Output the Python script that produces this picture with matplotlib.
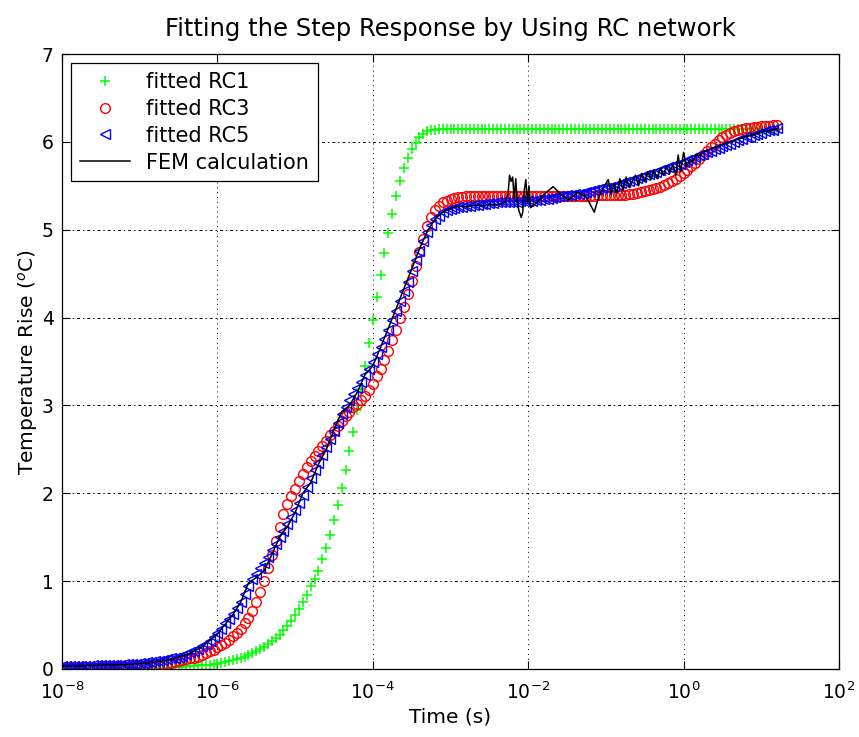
from __future__ import annotations

import numpy as np
import matplotlib

matplotlib.use("Agg")
import matplotlib.pyplot as plt
from matplotlib.ticker import NullLocator


# log10 of time (s) where the fitted RC curves are sampled: -8.00 ... 1.20, step 0.05
LOG_T_FIT = np.round(np.arange(-8.0, 1.2001, 0.05), 2)

# one row = half a decade (10 samples); the last row is 1.00 .. 1.20
RC1 = [
    0.00, 0.00, 0.00, 0.00, 0.00, 0.00, 0.00, 0.00, 0.00, 0.00,
    0.00, 0.00, 0.00, 0.01, 0.01, 0.01, 0.01, 0.01, 0.01, 0.01,
    0.01, 0.01, 0.01, 0.01, 0.01, 0.01, 0.01, 0.01, 0.02, 0.02,
    0.02, 0.02, 0.03, 0.03, 0.03, 0.04, 0.04, 0.05, 0.05, 0.06,
    0.06, 0.07, 0.08, 0.09, 0.10, 0.11, 0.13, 0.14, 0.16, 0.18,
    0.20, 0.23, 0.25, 0.28, 0.32, 0.35, 0.39, 0.44, 0.49, 0.55,
    0.61, 0.68, 0.76, 0.84, 0.94, 1.03, 1.12, 1.25, 1.38, 1.53,
    1.70, 1.87, 2.06, 2.26, 2.48, 2.70, 2.95, 3.19, 3.45, 3.71,
    3.97, 4.23, 4.48, 4.73, 4.96, 5.18, 5.38, 5.55, 5.70, 5.82,
    5.92, 5.99, 6.05, 6.09, 6.12, 6.13, 6.14, 6.15, 6.15, 6.15,
    6.15, 6.15, 6.15, 6.15, 6.15, 6.15, 6.15, 6.15, 6.15, 6.15,
    6.15, 6.15, 6.15, 6.15, 6.15, 6.15, 6.15, 6.15, 6.15, 6.15,
    6.15, 6.15, 6.15, 6.15, 6.15, 6.15, 6.15, 6.15, 6.15, 6.15,
    6.15, 6.15, 6.15, 6.15, 6.15, 6.15, 6.15, 6.15, 6.15, 6.15,
    6.15, 6.15, 6.15, 6.15, 6.15, 6.15, 6.15, 6.15, 6.15, 6.15,
    6.15, 6.15, 6.15, 6.15, 6.15, 6.15, 6.15, 6.15, 6.15, 6.15,
    6.15, 6.15, 6.15, 6.15, 6.15, 6.15, 6.15, 6.15, 6.15, 6.15,
    6.15, 6.15, 6.15, 6.15, 6.15, 6.15, 6.15, 6.15, 6.15, 6.15,
    6.15, 6.15, 6.15, 6.15, 6.15,
]

RC3 = [
    0.01, 0.01, 0.01, 0.01, 0.01, 0.01, 0.01, 0.01, 0.01, 0.01,
    0.02, 0.02, 0.02, 0.02, 0.02, 0.02, 0.02, 0.02, 0.03, 0.03,
    0.03, 0.03, 0.04, 0.04, 0.05, 0.05, 0.06, 0.06, 0.07, 0.08,
    0.09, 0.10, 0.11, 0.12, 0.13, 0.14, 0.16, 0.18, 0.20, 0.22,
    0.25, 0.27, 0.30, 0.33, 0.37, 0.41, 0.46, 0.52, 0.58, 0.66,
    0.76, 0.88, 1.00, 1.15, 1.30, 1.46, 1.62, 1.76, 1.88, 1.97,
    2.05, 2.14, 2.22, 2.30, 2.37, 2.43, 2.48, 2.54, 2.60, 2.66,
    2.71, 2.77, 2.82, 2.88, 2.93, 2.98, 3.02, 3.06, 3.11, 3.17,
    3.24, 3.33, 3.42, 3.52, 3.62, 3.74, 3.86, 3.99, 4.12, 4.27,
    4.42, 4.59, 4.75, 4.90, 5.04, 5.14, 5.22, 5.27, 5.31, 5.33,
    5.35, 5.36, 5.37, 5.37, 5.38, 5.38, 5.38, 5.38, 5.38, 5.38,
    5.38, 5.38, 5.38, 5.38, 5.38, 5.38, 5.38, 5.38, 5.38, 5.38,
    5.38, 5.38, 5.38, 5.38, 5.38, 5.38, 5.38, 5.38, 5.38, 5.38,
    5.38, 5.38, 5.38, 5.38, 5.38, 5.38, 5.38, 5.38, 5.39, 5.39,
    5.39, 5.39, 5.39, 5.40, 5.40, 5.40, 5.41, 5.41, 5.42, 5.43,
    5.44, 5.45, 5.46, 5.47, 5.49, 5.51, 5.53, 5.55, 5.58, 5.61,
    5.64, 5.68, 5.72, 5.76, 5.81, 5.85, 5.90, 5.94, 5.98, 6.02,
    6.05, 6.08, 6.10, 6.12, 6.14, 6.15, 6.16, 6.16, 6.17, 6.17,
    6.18, 6.18, 6.18, 6.19, 6.19,
]

RC5 = [
    0.03, 0.03, 0.03, 0.03, 0.03, 0.03, 0.03, 0.03, 0.04, 0.04,
    0.04, 0.04, 0.05, 0.05, 0.05, 0.05, 0.06, 0.06, 0.06, 0.06,
    0.07, 0.07, 0.08, 0.08, 0.09, 0.09, 0.10, 0.11, 0.12, 0.13,
    0.14, 0.15, 0.17, 0.19, 0.21, 0.23, 0.26, 0.29, 0.32, 0.36,
    0.41, 0.46, 0.52, 0.57, 0.63, 0.69, 0.76, 0.85, 0.95, 1.02,
    1.08, 1.15, 1.21, 1.28, 1.35, 1.42, 1.50, 1.57, 1.65, 1.73,
    1.81, 1.89, 1.98, 2.07, 2.17, 2.26, 2.35, 2.44, 2.53, 2.62,
    2.71, 2.80, 2.90, 2.98, 3.06, 3.13, 3.20, 3.27, 3.35, 3.42,
    3.50, 3.58, 3.66, 3.76, 3.86, 3.97, 4.08, 4.19, 4.30, 4.41,
    4.53, 4.65, 4.76, 4.87, 4.97, 5.05, 5.12, 5.16, 5.20, 5.22,
    5.24, 5.25, 5.26, 5.26, 5.27, 5.27, 5.28, 5.28, 5.29, 5.29,
    5.30, 5.30, 5.31, 5.31, 5.31, 5.31, 5.32, 5.32, 5.33, 5.33,
    5.33, 5.33, 5.34, 5.34, 5.35, 5.35, 5.36, 5.37, 5.38, 5.38,
    5.39, 5.40, 5.41, 5.41, 5.42, 5.43, 5.44, 5.45, 5.46, 5.47,
    5.48, 5.49, 5.50, 5.51, 5.53, 5.54, 5.56, 5.57, 5.59, 5.60,
    5.62, 5.63, 5.65, 5.66, 5.68, 5.69, 5.71, 5.72, 5.74, 5.75,
    5.77, 5.79, 5.81, 5.83, 5.85, 5.86, 5.88, 5.90, 5.92, 5.93,
    5.95, 5.96, 5.98, 6.00, 6.02, 6.03, 6.05, 6.06, 6.08, 6.09,
    6.10, 6.12, 6.13, 6.14, 6.16,
]

# FEM calculation, read point by point (log10 of time, temperature rise)
LOG_T_FEM = [
    -8.0, -7.6, -7.2, -7.0, -6.8, -6.6, -6.4, -6.2, -6.0, -5.8,
    -5.7, -5.6, -5.5, -5.4, -5.3, -5.2, -5.1, -5.0, -4.9, -4.8,
    -4.7, -4.6, -4.5, -4.4, -4.3, -4.2, -4.1, -4.0, -3.9, -3.8,
    -3.7, -3.6, -3.5, -3.4, -3.3, -3.2, -3.1, -3.0, -2.9, -2.8,
    -2.7, -2.6, -2.5, -2.4, -2.3, -2.26, -2.24, -2.22, -2.2, -2.18,
    -2.16, -2.14, -2.12, -2.09, -2.07, -2.05, -2.03, -2.01, -1.99, -1.97,
    -1.9, -1.8, -1.68, -1.55, -1.48, -1.36, -1.25, -1.15, -1.1, -1.05,
    -0.97, -0.93, -0.9, -0.86, -0.82, -0.78, -0.74, -0.7, -0.66, -0.62,
    -0.58, -0.54, -0.5, -0.46, -0.42, -0.38, -0.34, -0.3, -0.26, -0.22,
    -0.18, -0.14, -0.1, -0.07, -0.04, 0.0, 0.04, 0.08, 0.12, 0.16,
    0.2, 0.25, 0.3, 0.4, 0.5, 0.6, 0.7, 0.8, 0.9, 1.0,
    1.1, 1.2,
]
FEM = [
    0.03, 0.04, 0.05, 0.06, 0.08, 0.11, 0.16, 0.25, 0.40, 0.62,
    0.76, 0.98, 1.04, 1.12, 1.30, 1.50, 1.62, 1.78, 2.00, 2.12,
    2.33, 2.50, 2.72, 2.93, 3.00, 3.15, 3.35, 3.45, 3.66, 3.88,
    4.10, 4.33, 4.55, 4.78, 4.98, 5.12, 5.20, 5.24, 5.27, 5.26,
    5.28, 5.27, 5.29, 5.28, 5.31, 5.40, 5.62, 5.55, 5.60, 5.35,
    5.58, 5.30, 5.22, 5.14, 5.20, 5.45, 5.57, 5.30, 5.50, 5.25,
    5.30, 5.40, 5.49, 5.38, 5.34, 5.43, 5.37, 5.20, 5.35, 5.45,
    5.57, 5.40, 5.52, 5.42, 5.58, 5.45, 5.60, 5.48, 5.55, 5.62,
    5.50, 5.64, 5.55, 5.66, 5.57, 5.68, 5.58, 5.70, 5.62, 5.72,
    5.64, 5.74, 5.62, 5.85, 5.66, 5.88, 5.72, 5.80, 5.78, 5.86,
    5.84, 5.88, 5.90, 5.94, 5.97, 6.00, 6.03, 6.06, 6.08, 6.11,
    6.13, 6.15,
]

TITLE = "Fitting the Step Response by Using RC network"
X_LABEL = "Time (s)"
Y_LABEL = "Temperature Rise ($^o$C)"
X_TICKS = [1e-8, 1e-6, 1e-4, 1e-2, 1e0, 1e2]
Y_TICKS = [0, 1, 2, 3, 4, 5, 6, 7]


def setup_fonts() -> None:
    plt.rcParams["font.family"] = ["DejaVu Sans"]
    plt.rcParams["mathtext.fontset"] = "dejavusans"


def main() -> None:
    setup_fonts()
    fig = plt.figure(figsize=(8.59, 7.37), dpi=100)
    ax = fig.add_axes([62 / 859, 1 - 669 / 737, 777 / 859, 615 / 737])

    t_fit = 10.0 ** LOG_T_FIT
    t_fem = 10.0 ** np.array(LOG_T_FEM)

    ax.plot(t_fit, RC1, linestyle="none", marker="+", markersize=7.5,
            markeredgewidth=1.1, color="#00ff00", label="fitted RC1")
    ax.plot(t_fit, RC3, linestyle="none", marker="o", markersize=7,
            markerfacecolor="none", markeredgewidth=1.0, color="#ff0000",
            label="fitted RC3")
    ax.plot(t_fit, RC5, linestyle="none", marker="<", markersize=6.5,
            markerfacecolor="none", markeredgewidth=1.0, color="#0000ff",
            label="fitted RC5")
    ax.plot(t_fem, FEM, color="black", linewidth=1.1, label="FEM calculation")

    ax.set_xscale("log")
    ax.set_xlim(1e-8, 1e2)
    ax.set_ylim(0, 7)
    ax.set_xticks(X_TICKS)
    ax.set_yticks(Y_TICKS)
    ax.xaxis.set_minor_locator(NullLocator())

    ax.tick_params(which="both", direction="in", top=True, right=True,
                   length=6, width=0.8, labelsize=13.5)
    ax.tick_params(axis="x", pad=9)
    ax.tick_params(axis="y", pad=6)
    for spine in ax.spines.values():
        spine.set_linewidth(0.9)

    ax.xaxis.grid(True, color="black", linewidth=0.7, linestyle=(0, (1, 4)))
    ax.yaxis.grid(True, color="black", linewidth=0.7,
                  linestyle=(0, (1.5, 3, 3, 3)))

    ax.set_title(TITLE, fontsize=17.5, pad=13)
    ax.set_xlabel(X_LABEL, fontsize=14.5, labelpad=3)
    ax.set_ylabel(Y_LABEL, fontsize=14.5, labelpad=1)

    legend = ax.legend(loc="upper left", bbox_to_anchor=(0.0116, 0.985),
                       borderaxespad=0.0, fontsize=15, frameon=True,
                       fancybox=False, edgecolor="black", framealpha=1.0,
                       handlelength=2.4, labelspacing=0.33, borderpad=0.42,
                       handletextpad=0.8)
    legend.get_frame().set_linewidth(0.9)

    fig.savefig("out.png", dpi=100)
    plt.close(fig)


if __name__ == "__main__":
    main()
